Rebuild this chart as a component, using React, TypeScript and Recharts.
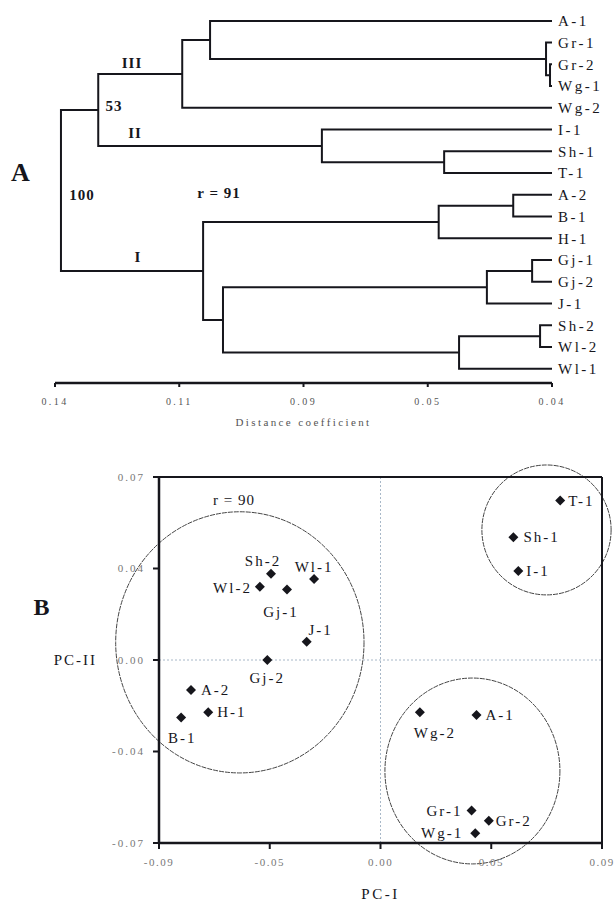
import React from 'react';
import {
  ComposedChart,
  ScatterChart,
  Scatter,
  XAxis,
  YAxis,
  ReferenceArea,
  ReferenceLine,
} from 'recharts';

// Panel A: UPGMA dendrogram
const leaves = ['A-1', 'Gr-1', 'Gr-2', 'Wg-1', 'Wg-2', 'I-1', 'Sh-1', 'T-1', 'A-2', 'B-1', 'H-1', 'Gj-1', 'Gj-2', 'J-1', 'Sh-2', 'Wl-2', 'Wl-1'];
const leafDist = 0.04;
// [left, right, distance]; nodes are named n0, n1, ... in order
const merges: [string, string, number][] = [
  ['Gr-2', 'Wg-1', 0.0404],
  ['Gr-1', 'n0', 0.0412],
  ['A-1', 'n1', 0.1088],
  ['n2', 'Wg-2', 0.1144],
  ['Sh-1', 'T-1', 0.0617],
  ['I-1', 'n4', 0.0863],
  ['n3', 'n5', 0.1313],
  ['A-2', 'B-1', 0.0478],
  ['n7', 'H-1', 0.0628],
  ['Gj-1', 'Gj-2', 0.044],
  ['n9', 'J-1', 0.0531],
  ['Sh-2', 'Wl-2', 0.0424],
  ['n11', 'Wl-1', 0.0587],
  ['n10', 'n12', 0.1062],
  ['n8', 'n13', 0.1102],
  ['n6', 'n14', 0.1388],
];
const distTicks = [0.14, 0.115, 0.09, 0.065, 0.04];
const distLabels = ['0.14', '0.11', '0.09', '0.05', '0.04'];

// Panel B: PCA scores
const pcNames = ['T-1', 'Sh-1', 'I-1', 'Sh-2', 'Wl-2', 'Gj-1', 'Wl-1', 'J-1', 'Gj-2', 'A-2', 'H-1', 'B-1', 'Wg-2', 'A-1', 'Gr-1', 'Gr-2', 'Wg-1'];
const pc1 = [0.073, 0.054, 0.056, -0.0445, -0.049, -0.038, -0.027, -0.030, -0.046, -0.077, -0.070, -0.081, 0.016, 0.039, 0.037, 0.044, 0.0385];
const pc2 = [0.061, 0.047, 0.034, 0.033, 0.028, 0.027, 0.031, 0.007, 0.0, -0.0115, -0.020, -0.022, -0.020, -0.021, -0.0576, -0.0615, -0.0663];
const pc1Ticks = [-0.09, -0.045, 0, 0.045, 0.09];
const pc1Labels = ['-0.09', '-0.05', '0.00', '0.05', '0.09'];
const pc2Ticks = [0.07, 0.035, 0, -0.035, -0.07];
const pc2Labels = ['0.07', '0.04', '0.00', '-0.04', '-0.07'];
// group outlines [x1, x2, y1, y2]
const groups: [number, number, number, number][] = [
  [-0.1076, -0.0067, -0.0432, 0.0567],
  [0.0412, 0.0937, 0.0249, 0.0746],
  [0.0018, 0.0729, -0.078, -0.0069],
];

const FONT = '"Liberation Serif", "Times New Roman", serif';
const INK = '#16161c';

// where each point label sits relative to its marker
const labelPlace: Record<string, { dx: number; dy: number; anchor: string }> = {
  'T-1': { dx: 8, dy: 0, anchor: 'start' },
  'Sh-1': { dx: 10, dy: 0, anchor: 'start' },
  'I-1': { dx: 8, dy: 0, anchor: 'start' },
  'Sh-2': { dx: -8, dy: -13, anchor: 'middle' },
  'Wl-1': { dx: 0, dy: -12, anchor: 'middle' },
  'Wl-2': { dx: -8, dy: 1, anchor: 'end' },
  'Gj-1': { dx: -6, dy: 23, anchor: 'middle' },
  'J-1': { dx: 14, dy: -12, anchor: 'middle' },
  'Gj-2': { dx: 0, dy: 18, anchor: 'middle' },
  'A-2': { dx: 10, dy: 0, anchor: 'start' },
  'H-1': { dx: 9, dy: 0, anchor: 'start' },
  'B-1': { dx: 1, dy: 20, anchor: 'middle' },
  'Wg-2': { dx: 15, dy: 21, anchor: 'middle' },
  'A-1': { dx: 9, dy: 0, anchor: 'start' },
  'Gr-1': { dx: -9, dy: 0, anchor: 'end' },
  'Gr-2': { dx: 7, dy: 0, anchor: 'start' },
  'Wg-1': { dx: -12, dy: 0, anchor: 'end' },
};

function buildBranches() {
  const pos: Record<string, { h: number; y: number }> = {};
  leaves.forEach((n, i) => { pos[n] = { h: leafDist, y: i }; });
  const segs: { x: number; y: number }[][] = [];
  merges.forEach(([a, b, h], k) => {
    const p = pos[a];
    const q = pos[b];
    segs.push([
      { x: p.h, y: p.y },
      { x: h, y: p.y },
      { x: h, y: q.y },
      { x: q.h, y: q.y },
    ]);
    pos['n' + k] = { h, y: (p.y + q.y) / 2 };
  });
  return segs;
}

const branches = buildBranches();
const pcData = pcNames.map((name, i) => ({ name, x: pc1[i], y: pc2[i] }));
const leafTicks = leaves.map((_, i) => i);

const noDot = () => <g />;

const DiamondMark = (props: any) => {
  const { cx, cy, payload } = props;
  const s = 5;
  const p = labelPlace[payload.name] || { dx: 9, dy: 0, anchor: 'start' };
  return (
    <g>
      <polygon points={`${cx},${cy - s} ${cx + s},${cy} ${cx},${cy + s} ${cx - s},${cy}`} fill={INK} />
      <text
        x={cx + p.dx}
        y={cy + p.dy}
        textAnchor={p.anchor as any}
        dominantBaseline="central"
        fontFamily={FONT}
        fontSize={15}
        letterSpacing={2}
        fill={INK}
      >
        {payload.name}
      </text>
    </g>
  );
};

const GroupRing = (props: any) => {
  const { x, y, width, height } = props;
  return (
    <ellipse
      cx={x + width / 2}
      cy={y + height / 2}
      rx={Math.abs(width) / 2}
      ry={Math.abs(height) / 2}
      fill="none"
      stroke="#444"
      strokeWidth={1}
      strokeDasharray="5 1"
    />
  );
};

const Note = ({ x, y, size = 15, bold = false, children }: any) => (
  <span
    style={{
      position: 'absolute',
      left: x,
      top: y,
      transform: 'translate(-50%, -50%)',
      fontFamily: FONT,
      fontSize: size,
      fontWeight: bold ? 'bold' : 'normal',
      color: INK,
      whiteSpace: 'nowrap',
      lineHeight: 1,
      letterSpacing: 1,
    }}
  >
    {children}
  </span>
);

const Dendrogram = () => (
  <ComposedChart width={614} height={440} margin={{ top: 10, right: 2, bottom: 12, left: 55 }}>
    <XAxis
      type="number"
      dataKey="x"
      domain={[0.04, 0.14]}
      reversed
      allowDataOverflow
      ticks={distTicks}
      interval={0}
      tickFormatter={(v: number) => distLabels[distTicks.indexOf(v)]}
      height={45}
      axisLine={{ stroke: INK, strokeWidth: 2.5 }}
      tickLine={{ stroke: INK, strokeWidth: 2 }}
      tickSize={4}
      tickMargin={11}
      tick={{ fontSize: 10, fill: '#555', fontFamily: FONT, letterSpacing: 2.4 }}
      label={{ value: 'Distance coefficient', position: 'insideBottom', offset: 2, fontSize: 11, fill: '#555', fontFamily: FONT, letterSpacing: 2.4 }}
    />
    <YAxis
      type="number"
      dataKey="y"
      orientation="right"
      domain={[-0.5, 16.65]}
      reversed
      allowDataOverflow
      ticks={leafTicks}
      interval={0}
      tickFormatter={(i: number) => leaves[i]}
      width={60}
      axisLine={false}
      tickLine={false}
      tickSize={0}
      tickMargin={6}
      tick={{ fontSize: 15, fill: INK, fontFamily: FONT, letterSpacing: 2.5 }}
    />
    {branches.map((seg, k) => (
      <Scatter
        key={k}
        data={seg}
        fill={INK}
        line={{ stroke: INK, strokeWidth: 2 }}
        shape={noDot}
        isAnimationActive={false}
      />
    ))}
  </ComposedChart>
);

const PcaPlot = () => (
  <ScatterChart width={614} height={464} margin={{ top: 37, right: 12, bottom: 3, left: 119 }}>
    <XAxis
      type="number"
      dataKey="x"
      domain={[-0.09, 0.09]}
      allowDataOverflow
      ticks={pc1Ticks}
      interval={0}
      tickFormatter={(v: number) => pc1Labels[pc1Ticks.indexOf(v)]}
      height={58}
      axisLine={{ stroke: INK, strokeWidth: 2.5 }}
      tickLine={{ stroke: INK, strokeWidth: 2 }}
      tickSize={6}
      tickMargin={9}
      tick={{ fontSize: 11, fill: '#777', fontFamily: FONT, letterSpacing: 1.5 }}
      label={{ value: 'PC-I', position: 'insideBottom', offset: 2, fontSize: 15, fill: INK, fontFamily: FONT, letterSpacing: 2.5 }}
    />
    <YAxis
      type="number"
      dataKey="y"
      domain={[-0.07, 0.07]}
      allowDataOverflow
      ticks={pc2Ticks}
      interval={0}
      tickFormatter={(v: number) => pc2Labels[pc2Ticks.indexOf(v)]}
      width={40}
      axisLine={{ stroke: INK, strokeWidth: 2.5 }}
      tickLine={{ stroke: INK, strokeWidth: 2 }}
      tickSize={6}
      tickMargin={8}
      tick={{ fontSize: 11, fill: '#777', fontFamily: FONT, letterSpacing: 2 }}
      label={{ value: 'PC-II', position: 'left', offset: 22, fontSize: 15, fill: INK, fontFamily: FONT, letterSpacing: 2 }}
    />
    <ReferenceLine x={0} stroke="#a8b8c8" strokeDasharray="2 2" strokeWidth={1} />
    <ReferenceLine y={0} stroke="#a8b8c8" strokeDasharray="2 2" strokeWidth={1} />
    <ReferenceLine y={0.07} stroke={INK} strokeWidth={2} />
    <ReferenceLine x={0.09} stroke={INK} strokeWidth={2} />
    {groups.map(([x1, x2, y1, y2], k) => (
      <ReferenceArea key={k} x1={x1} x2={x2} y1={y1} y2={y2} ifOverflow="visible" shape={GroupRing} />
    ))}
    <Scatter data={pcData} fill={INK} shape={DiamondMark} isAnimationActive={false} />
  </ScatterChart>
);

export default function App() {
  return (
    <div style={{ position: 'absolute', left: 0, top: 0, width: 614, height: 904, background: '#fff', overflow: 'hidden' }}>
      <div style={{ position: 'absolute', left: 0, top: 0 }}>
        <Dendrogram />
      </div>
      <div style={{ position: 'absolute', left: 0, top: 440 }}>
        <PcaPlot />
      </div>
      <Note x={21} y={173} size={26} bold>A</Note>
      <Note x={132} y={63} bold>III</Note>
      <Note x={114} y={106} bold>53</Note>
      <Note x={135} y={133} bold>II</Note>
      <Note x={82} y={195} bold>100</Note>
      <Note x={219} y={193} bold>r = 91</Note>
      <Note x={138} y={257} bold>I</Note>
      <Note x={42} y={607} size={24} bold>B</Note>
      <Note x={234} y={500}>r = 90</Note>
    </div>
  );
}
